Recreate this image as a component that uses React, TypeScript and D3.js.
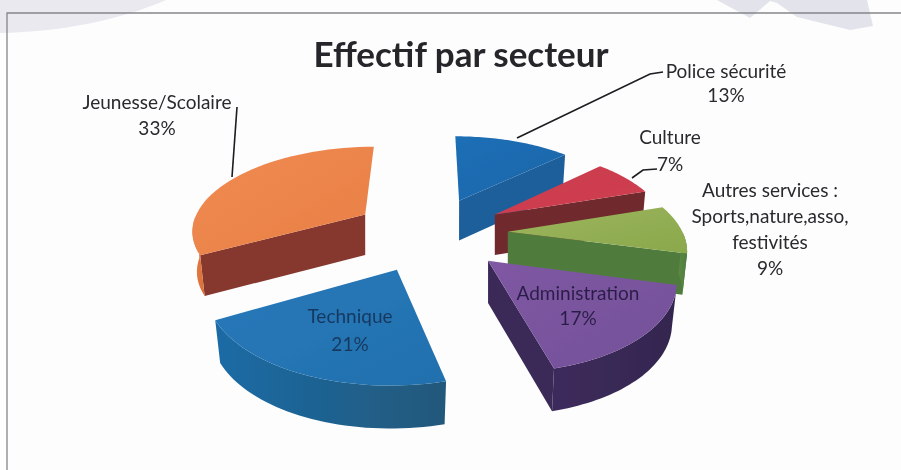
import React from "react";
import * as d3 from "d3";

const categories = ["Police sécurité", "Culture", "Autres services", "Administration", "Technique", "Jeunesse/Scolaire"];
const shares = [13, 7, 9, 17, 21, 33];
const topColors = ["#1f6fb6", "#c93b4e", "#9cb55c", "#7f58a2", "#2879ba", "#f08b52"];
const topColorsDark = ["#1c65a8", "#d0404f", "#8aa84c", "#74509a", "#2270ae", "#e87f45"];
const cutColors = ["#1d5f9b", "#6f2a2e", "#4f7c3e", "#3a2a58", "#1f6496", "#87392f"];
const wallColors = ["#1d5f9b", "#7a2d30", "#5c8a44", "#3e2c5c", "#1b6ba6", "#e57c42"];
const wallColorsEnd = ["#1d5f9b", "#6f2a2e", "#4f7c3e", "#33264f", "#23587a", "#d9703a"];
const paintOrder = [0, 5, 1, 2, 4, 3];

const W = 901, H = 470;
const cx = 430, cy = 233, R = 175, flat = 0.48, D = 1100, explode = 78, depth = 41, taper = 0.975;

const project = (r: number, t: number, mid: number, z = 0): [number, number] => {
  const rr = r * (z ? taper : 1);
  const X = rr * Math.sin(t) + explode * Math.sin(mid);
  const Y = -rr * Math.cos(t) - explode * Math.cos(mid);
  const s = D / (D - Y);
  return [cx + X * s, cy + Y * flat * s + z * depth * Math.sqrt(s)];
};

const line = d3.line<[number, number]>();
const slices = d3.pie<number>().sort(null).value((d) => d)(shares);

const faces = slices.map((sl) => {
  const mid = (sl.startAngle + sl.endAngle) / 2;
  const ts = d3.range(0, 41).map((i) => sl.startAngle + ((sl.endAngle - sl.startAngle) * i) / 40);
  const rimTop = ts.map((t) => project(R, t, mid, 0));
  const rimBot = ts.map((t) => project(R, t, mid, 1));
  const frontTs = ts.filter((t) => Math.cos(t) < 0);
  const wallTop = frontTs.map((t) => project(R, t, mid, 0));
  const wallBot = frontTs.map((t) => project(R, t, mid, 1));
  const apexTop = project(0, 0, mid, 0);
  const apexBot = project(0, 0, mid, 1);
  const cut = (k: number) => line([apexTop, rimTop[k], rimBot[k], apexBot]) + "Z";
  return {
    top: line([apexTop, ...rimTop]) + "Z",
    wall: frontTs.length > 1 ? line([...wallTop, ...wallBot.slice().reverse()]) + "Z" : null,
    cutA: Math.sin(sl.startAngle) < -0.01 ? cut(0) : null,
    cutB: Math.sin(sl.endAngle) > 0.01 ? cut(40) : null,
  };
});

const titleText = "Effectif par secteur";
const labelFont = "Lato, 'Open Sans', sans-serif";
const labelBlocks: { x: number; ys: number[]; lines: string[]; fill: string }[] = [
  { x: 157, ys: [109, 135], lines: ["Jeunesse/Scolaire", "33%"], fill: "#2a2a2e" },
  { x: 726, ys: [78, 102], lines: ["Police sécurité", "13%"], fill: "#2a2a2e" },
  { x: 670, ys: [144, 171], lines: ["Culture", "7%"], fill: "#2a2a2e" },
  { x: 770, ys: [197, 223, 249, 275], lines: ["Autres services :", "Sports,nature,asso,", "festivités", "9%"], fill: "#2a2a2e" },
  { x: 350, ys: [323, 351], lines: ["Technique", "21%"], fill: "#17395e" },
  { x: 578, ys: [300, 325], lines: ["Administration", "17%"], fill: "#2c1f48" },
];
const leaders: [number, number][][] = [
  [[237, 107], [232, 177]],
  [[663, 72], [650, 74], [517, 138]],
  [[657, 169], [643, 170], [632, 178]],
];

export default function App() {
  return (
    <svg width={W} height={H} viewBox={`0 0 ${W} ${H}`} style={{ position: "fixed", left: 0, top: 0, background: "#fdfdfe" }}>
      <defs>
        <filter id="soft" x="-5%" y="-5%" width="110%" height="110%">
          <feGaussianBlur stdDeviation="0.55" />
        </filter>
        {faces.map((_, i) => (
          <React.Fragment key={i}>
            <linearGradient id={`t${i}`} x1="0" y1="0" x2="1" y2="1">
              <stop offset="0" stopColor={topColors[i]} />
              <stop offset="1" stopColor={topColorsDark[i]} />
            </linearGradient>
            <linearGradient id={`w${i}`} x1="0" y1="0" x2="1" y2="0">
              <stop offset="0" stopColor={wallColors[i]} />
              <stop offset="1" stopColor={wallColorsEnd[i]} />
            </linearGradient>
          </React.Fragment>
        ))}
      </defs>
      <g filter="url(#soft)">
        <path d="M0,0 L166,0 C120,20 60,32 0,33 Z" fill="#e9e9ef" />
        <path d="M717,0 L750,18 L770,1 L777,3 L797,17 L850,30 L873,26 L867,0 Z" fill="#e3e4eb" />
        <path d="M7,470 L7,13 L901,13" fill="none" stroke="#85858c" strokeWidth={1.3} />
        {paintOrder.map((i) => (
          <g key={categories[i]}>
            {faces[i].cutA && <path d={faces[i].cutA!} fill={cutColors[i]} />}
            {faces[i].cutB && <path d={faces[i].cutB!} fill={cutColors[i]} />}
            {faces[i].wall && <path d={faces[i].wall!} fill={`url(#w${i})`} />}
            <path d={faces[i].top} fill={`url(#t${i})`} />
          </g>
        ))}
        {leaders.map((pts, i) => (
          <path key={i} d={line(pts) ?? ""} fill="none" stroke="#1c1c20" strokeWidth={1.6} />
        ))}
        <text x={461} y={67} textAnchor="middle" fontFamily={labelFont} fontWeight={700} fontSize={35} fill="#25272b">
          {titleText}
        </text>
        {labelBlocks.map((b) =>
          b.lines.map((l, j) => (
            <text key={l} x={b.x} y={b.ys[j]} textAnchor="middle" fontFamily={labelFont} fontSize={19} fill={b.fill}>
              {l}
            </text>
          ))
        )}
      </g>
    </svg>
  );
}
